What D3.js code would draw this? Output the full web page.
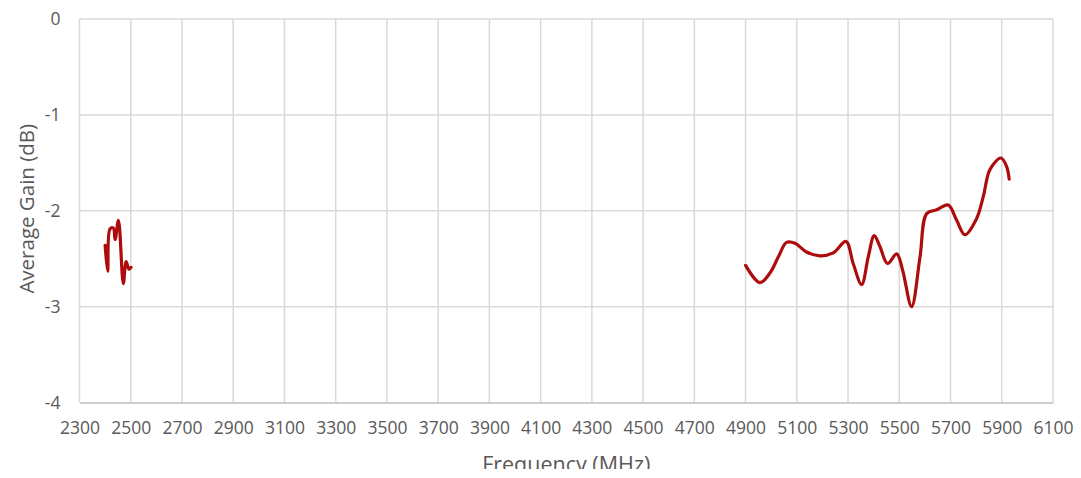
<!DOCTYPE html>
<html>
<head>
<meta charset="utf-8">
<script src="https://cdn.jsdelivr.net/npm/d3@7"></script>
<style>
  html, body { margin: 0; padding: 0; background: #fff; }
  svg { display: block; }
  text { font-family: "Open Sans", "DejaVu Sans", sans-serif; fill: #595959; }
</style>
</head>
<body>
<svg id="chart" width="1081" height="478"></svg>
<script>
// Measured average gain, 2.4 GHz band
const band24Freq = [2400, 2410, 2419, 2432, 2439, 2452, 2471, 2482, 2493, 2501];
const band24Gain = [-2.36, -2.63, -2.19, -2.18, -2.30, -2.10, -2.76, -2.53, -2.61, -2.59];

// Measured average gain, 5 GHz band
const band5Freq = [4900, 4956, 4995, 5028, 5060, 5093, 5138, 5190, 5242, 5292, 5320, 5353,
                   5379, 5402, 5424, 5454, 5490, 5513, 5548, 5581, 5607, 5646, 5691, 5724,
                   5756, 5802, 5828, 5854, 5897, 5919, 5929];
const band5Gain = [-2.57, -2.75, -2.65, -2.48, -2.33, -2.34, -2.43, -2.47, -2.44, -2.32, -2.55, -2.77,
                   -2.48, -2.26, -2.37, -2.55, -2.45, -2.62, -3.00, -2.48, -2.03, -1.99, -1.94, -2.10,
                   -2.25, -2.08, -1.85, -1.57, -1.45, -1.54, -1.67];

const xTicks = d3.range(2300, 6101, 200);
const yTicks = [0, -1, -2, -3, -4];

const xTitle = "Frequency (MHz)";
const yTitle = "Average Gain (dB)";

const svg = d3.select("#chart");
const plot = { left: 79.5, right: 1053, top: 19, bottom: 402.5 };

const x = d3.scaleLinear().domain([2300, 6100]).range([plot.left, plot.right]);
const y = d3.scaleLinear().domain([-4, 0]).range([plot.bottom, plot.top]);

// Gridlines
const grid = svg.append("g");
grid.selectAll("line.v").data(xTicks).join("line")
  .attr("x1", d => x(d)).attr("x2", d => x(d))
  .attr("y1", plot.top).attr("y2", plot.bottom)
  .attr("stroke", "#d9d9d9").attr("stroke-width", 1.5);
grid.selectAll("line.h").data(yTicks.filter(d => d !== -4)).join("line")
  .attr("x1", plot.left).attr("x2", plot.right)
  .attr("y1", d => y(d)).attr("y2", d => y(d))
  .attr("stroke", "#d9d9d9").attr("stroke-width", 1.5);

// Bottom axis
const xAxis = svg.append("g")
  .attr("transform", `translate(0,${plot.bottom})`)
  .call(d3.axisBottom(x).tickValues(xTicks).tickFormat(d => String(d)).tickSize(0).tickPadding(19));
xAxis.select(".domain").attr("stroke", "#cfcfcf").attr("stroke-width", 2);
xAxis.selectAll("text").style("font-size", "17.5px").attr("fill", "#555");

// Left axis (labels only)
const yAxis = svg.append("g")
  .attr("transform", `translate(${plot.left},0)`)
  .call(d3.axisLeft(y).tickValues(yTicks).tickFormat(d => String(d)).tickSize(0).tickPadding(19));
yAxis.select(".domain").remove();
yAxis.selectAll("text").style("font-size", "17.5px").attr("fill", "#555");

// Data lines
const line = d3.line()
  .x(d => x(d[0])).y(d => y(d[1]))
  .curve(d3.curveCatmullRom.alpha(0.5));

[[band24Freq, band24Gain], [band5Freq, band5Gain]].forEach(([f, g]) => {
  svg.append("path")
    .datum(f.map((v, i) => [v, g[i]]))
    .attr("d", line)
    .attr("fill", "none")
    .attr("stroke", "#ad0c0c")
    .attr("stroke-width", 3.2)
    .attr("stroke-linejoin", "round")
    .attr("stroke-linecap", "round");
});

// Axis titles
svg.append("defs").append("clipPath").attr("id", "bottomClip")
  .append("rect").attr("x", 0).attr("y", 0).attr("width", 1081).attr("height", 469);

svg.append("text")
  .attr("clip-path", "url(#bottomClip)")
  .attr("x", (plot.left + plot.right) / 2)
  .attr("y", 472)
  .attr("text-anchor", "middle")
  .style("font-size", "21.5px")
  .text(xTitle);

svg.append("text")
  .attr("transform", `translate(34,${y(-2) - 2}) rotate(-90)`)
  .attr("text-anchor", "middle")
  .style("font-size", "20.5px")
  .text(yTitle);
</script>
</body>
</html>
